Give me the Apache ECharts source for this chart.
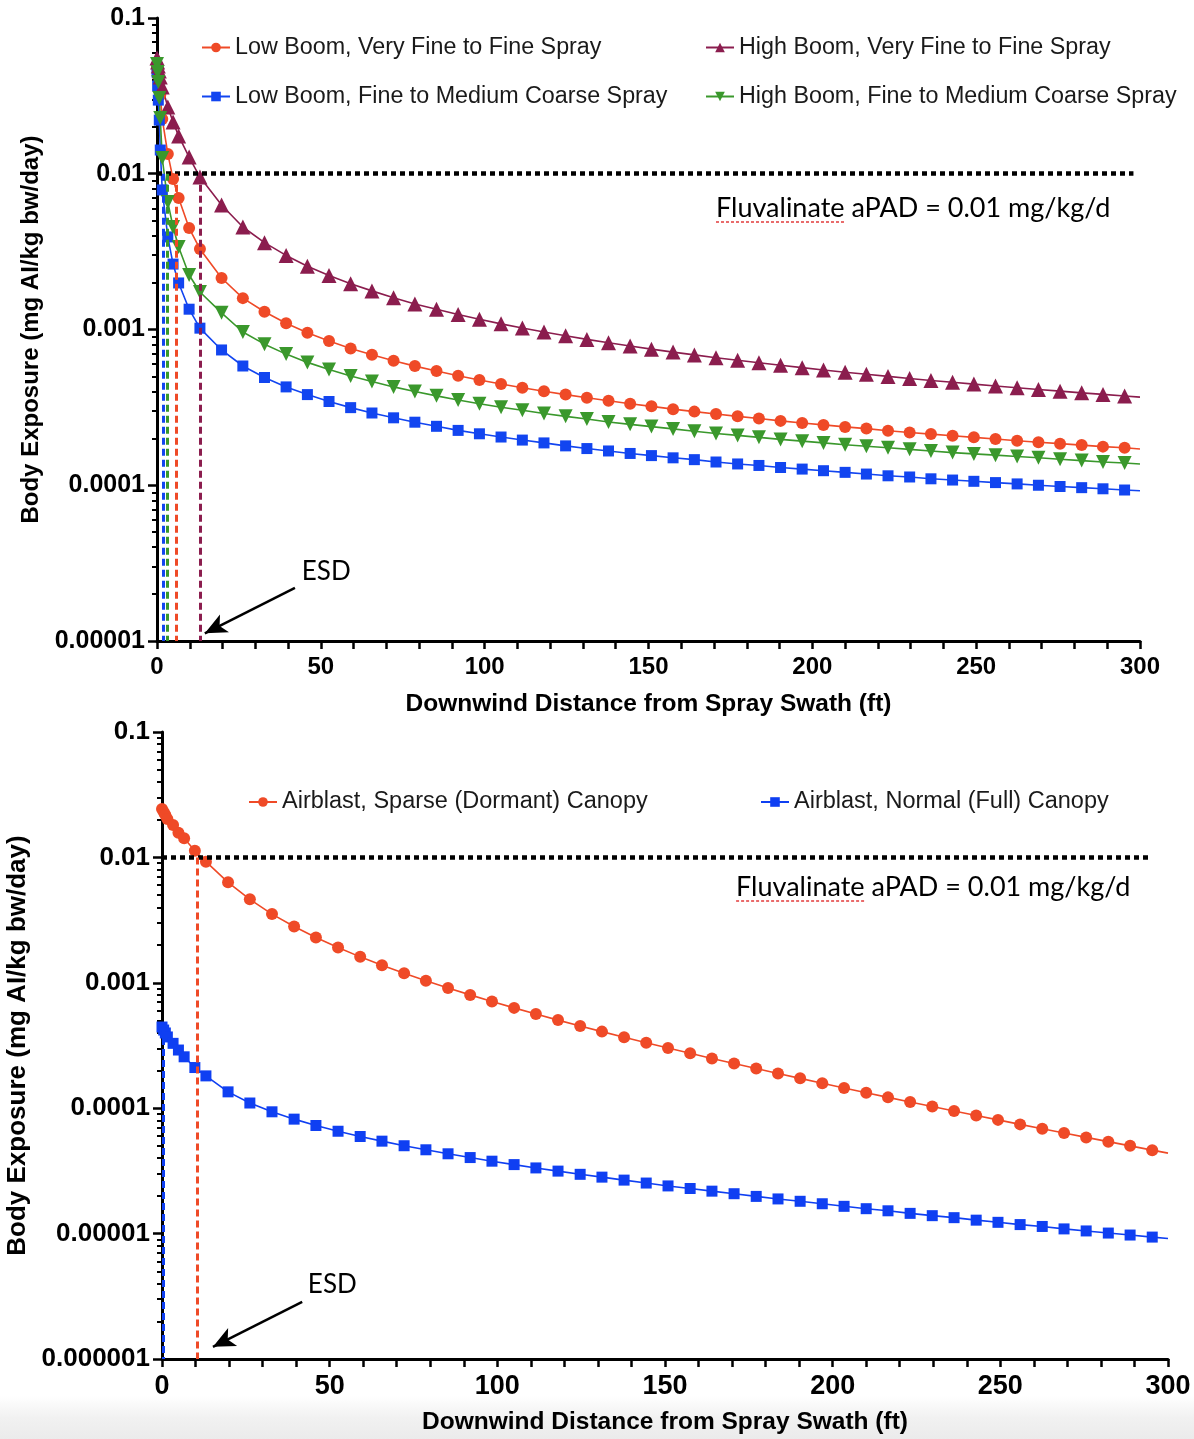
<!DOCTYPE html>
<html><head><meta charset="utf-8">
<script src="https://cdn.jsdelivr.net/npm/echarts@6/dist/echarts.min.js"></script>
<style>
html,body{margin:0;padding:0;background:#fff}
#c{width:1194px;height:1439px;background:linear-gradient(to bottom,#fff 0,#fff 1396px,#f1f1f1 1418px,#ebebeb 1439px)}
</style>
</head><body><div id="c"></div>
<script>
// ---------- DATA ----------
const xTop = [0,0.2,0.4,0.7,1.0,1.6,3.3,4.9,6.6,9.8,13.1,19.7,26.2,32.8,39.4,45.9,52.5,59.1,65.6,72.2,78.7,85.3,91.9,98.4,105.0,111.5,118.1,124.7,131.2,137.8,144.4,150.9,157.5,164.0,170.6,177.2,183.7,190.3,196.9,203.4,210.0,216.5,223.1,229.7,236.2,242.8,249.3,255.9,262.5,269.0,275.6,282.2,288.7,295.3,300];
const lowBoomVeryFine = [0.0499,0.0464,0.0431,0.0388,0.0320,0.0225,0.0134,0.00925,0.00699,0.00448,0.00329,0.00214,
  1.59e-3,1.30e-3,1.096e-3,9.53e-4,8.43e-4,7.56e-4,6.88e-4,6.30e-4,5.82e-4,5.41e-4,5.05e-4,4.74e-4,4.47e-4,4.23e-4,4.01e-4,3.82e-4,3.65e-4,3.49e-4,3.34e-4,3.21e-4,3.08e-4,2.97e-4,2.87e-4,2.77e-4,2.68e-4,2.59e-4,2.51e-4,2.44e-4,2.37e-4,2.31e-4,2.24e-4,2.18e-4,2.13e-4,2.08e-4,2.03e-4,1.98e-4,1.93e-4,1.89e-4,1.85e-4,1.81e-4,1.77e-4,1.74e-4,1.71e-4];
const lowBoomFineMed = [0.0450,0.0366,0.0297,0.0221,0.0142,0.00787,0.00393,0.00263,0.00199,0.00135,0.00102,0.000739,
  5.83e-4,4.92e-4,4.28e-4,3.82e-4,3.45e-4,3.15e-4,2.91e-4,2.71e-4,2.54e-4,2.39e-4,2.25e-4,2.14e-4,2.04e-4,1.95e-4,1.87e-4,1.79e-4,1.72e-4,1.66e-4,1.60e-4,1.55e-4,1.50e-4,1.46e-4,1.41e-4,1.37e-4,1.34e-4,1.30e-4,1.27e-4,1.24e-4,1.21e-4,1.18e-4,1.15e-4,1.13e-4,1.10e-4,1.08e-4,1.06e-4,1.04e-4,1.02e-4,1.00e-4,9.82e-5,9.65e-5,9.49e-5,9.32e-5,9.21e-5];
const highBoomVeryFine = [0.0553,0.0522,0.0492,0.0457,0.0418,0.0361,0.0268,0.0215,0.0175,0.0128,0.00953,0.0063,
  4.55e-3,3.61e-3,2.99e-3,2.55e-3,2.22e-3,1.97e-3,1.77e-3,1.60e-3,1.46e-3,1.35e-3,1.248e-3,1.163e-3,1.087e-3,1.022e-3,9.63e-4,9.11e-4,8.64e-4,8.22e-4,7.83e-4,7.48e-4,7.16e-4,6.87e-4,6.59e-4,6.34e-4,6.11e-4,5.89e-4,5.69e-4,5.50e-4,5.32e-4,5.16e-4,5.00e-4,4.85e-4,4.71e-4,4.58e-4,4.46e-4,4.34e-4,4.23e-4,4.12e-4,4.02e-4,3.92e-4,3.83e-4,3.74e-4,3.68e-4];
const highBoomFineMed = [0.0507,0.0450,0.0388,0.0306,0.0228,0.0126,0.00658,0.00455,0.00339,0.00224,0.00174,0.00128,
  9.64e-4,8.05e-4,6.95e-4,6.15e-4,5.53e-4,5.03e-4,4.63e-4,4.28e-4,4.00e-4,3.75e-4,3.53e-4,3.34e-4,3.17e-4,3.03e-4,2.89e-4,2.77e-4,2.66e-4,2.55e-4,2.46e-4,2.38e-4,2.30e-4,2.22e-4,2.15e-4,2.09e-4,2.03e-4,1.97e-4,1.92e-4,1.87e-4,1.82e-4,1.78e-4,1.74e-4,1.70e-4,1.66e-4,1.62e-4,1.59e-4,1.56e-4,1.53e-4,1.50e-4,1.47e-4,1.44e-4,1.41e-4,1.39e-4,1.37e-4];

const xBot = [0,0.5,1.0,1.6,3.3,4.9,6.6,9.8,13.1,19.7,26.2,32.8,39.4,45.9,52.5,59.1,65.6,72.2,78.7,85.3,91.9,98.4,105.0,111.5,118.1,124.7,131.2,137.8,144.4,150.9,157.5,164.0,170.6,177.2,183.7,190.3,196.9,203.4,210.0,216.5,223.1,229.7,236.2,242.8,249.3,255.9,262.5,269.0,275.6,282.2,288.7,295.3,300];
const airblastSparse = [0.0243,0.0230,0.0218,0.0202,0.0181,0.0157,0.0142,0.0113,0.00924,0.00633,
  4.63e-3,3.53e-3,2.81e-3,2.30e-3,1.91e-3,1.61e-3,1.38e-3,1.19e-3,1.04e-3,9.10e-4,8.01e-4,7.10e-4,6.31e-4,5.64e-4,5.04e-4,4.53e-4,4.08e-4,3.68e-4,3.33e-4,3.02e-4,2.74e-4,2.49e-4,2.27e-4,2.07e-4,1.89e-4,1.73e-4,1.58e-4,1.45e-4,1.33e-4,1.22e-4,1.12e-4,1.03e-4,9.50e-5,8.74e-5,8.07e-5,7.43e-5,6.86e-5,6.34e-5,5.85e-5,5.41e-5,5.01e-5,4.63e-5,4.38e-5];
const airblastNormal = [4.44e-4,4.20e-4,3.98e-4,3.70e-4,3.29e-4,2.91e-4,2.57e-4,2.11e-4,1.81e-4,1.35e-4,
  1.10e-4,9.36e-5,8.18e-5,7.28e-5,6.55e-5,5.95e-5,5.46e-5,5.02e-5,4.66e-5,4.33e-5,4.04e-5,3.78e-5,3.55e-5,3.34e-5,3.15e-5,2.97e-5,2.82e-5,2.67e-5,2.53e-5,2.40e-5,2.29e-5,2.18e-5,2.08e-5,1.98e-5,1.89e-5,1.81e-5,1.73e-5,1.65e-5,1.58e-5,1.52e-5,1.45e-5,1.39e-5,1.34e-5,1.28e-5,1.23e-5,1.18e-5,1.14e-5,1.09e-5,1.05e-5,1.01e-5,9.74e-6,9.38e-6,9.13e-6];

// ESD distances (ft)
const esdTop = {lowVF: 5.8, lowFM: 1.9, highVF: 13.1, highFM: 3.1};
const esdBot = {sparse: 10.6, normal: 0.4};
const aPAD = 0.01;

const namesTop = ['Low Boom, Very Fine to Fine Spray','Low Boom, Fine to Medium Coarse Spray','High Boom, Very Fine to Fine Spray','High Boom, Fine to Medium Coarse Spray'];
const namesBot = ['Airblast, Sparse (Dormant) Canopy','Airblast, Normal (Full) Canopy'];
const yTicksTop = [1e-5,1e-4,1e-3,1e-2,1e-1];
const yLabelsTop = ['0.00001','0.0001','0.001','0.01','0.1'];
const yTicksBot = [1e-6,1e-5,1e-4,1e-3,1e-2,1e-1];
const yLabelsBot = ['0.000001','0.00001','0.0001','0.001','0.01','0.1'];
const xTitle = 'Downwind Distance from Spray Swath (ft)';
const yTitle = 'Body Exposure (mg AI/kg bw/day)';
const apadText = 'Fluvalinate aPAD = 0.01 mg/kg/d';

// ---------- STYLE ----------
const C = {red:'#EF4A27', blue:'#1245F0', purple:'#8B1D4E', green:'#3A982C', bred:'#EF4A27', bblue:'#0F3FF2'};
const FONT = 'Liberation Sans, Arial, sans-serif';
const GILL = 'Lato, Open Sans, sans-serif';

function pts(xs, ys){
  return xs.map((x,i)=> i===xs.length-1 ? {value:[x,ys[i]], symbol:'none'} : [x,ys[i]]);
}
function minors(ticks){
  const out=[];
  for(let i=0;i<ticks.length-1;i++) for(let m=2;m<=9;m++) out.push(ticks[i]*m);
  return out;
}
function yLabFmt(ticks, labels){
  return v => { const k = Math.round(Math.log10(v)); const idx = ticks.findIndex(t=>Math.round(Math.log10(t))===k); return idx>=0?labels[idx]:''; };
}
function esdLine(x, yTop, yBot, color){
  return [{coord:[x,yTop], lineStyle:{color, width:3, type:[7,4]}, symbol:'none'},{coord:[x,yBot], symbol:'none'}];
}
function lineSeries(name, xs, ys, color, symbol, size, rot, xi, yi, ml){
  return {
    name, type:'line', xAxisIndex:xi, yAxisIndex:yi, data:pts(xs,ys),
    symbol, symbolSize:size, symbolRotate:rot||0, showSymbol:true,
    lineStyle:{color, width:1.6}, itemStyle:{color},
    emphasis:{disabled:true}, silent:true, z:3,
    markLine: ml ? {silent:true, symbol:'none', label:{show:false}, animation:false, data:ml} : undefined
  };
}

const chart = echarts.init(document.getElementById('c'), null, {renderer:'canvas'});

const axisLineStyle = {color:'#000', width:3};
function xAxisCfg(gi, labelSize, nameSize, nameGap){
  return {
    gridIndex:gi, type:'value', min:0, max:300, interval:10,
    axisLine:{show:true, onZero:false, lineStyle:axisLineStyle},
    axisTick:{show:true, length:8, lineStyle:{color:'#000', width:2.5}},
    axisLabel:{margin:14, color:'#000', fontFamily:FONT, fontWeight:'bold', fontSize:labelSize,
      formatter: v => (Math.round(v)%50===0 ? String(Math.round(v)) : '')},
    splitLine:{show:false},
    name:xTitle, nameLocation:'middle', nameGap,
    nameTextStyle:{color:'#000', fontFamily:FONT, fontWeight:'bold', fontSize:nameSize}
  };
}
function yAxisCfg(gi, ticks, labels, labelSize, nameSize, nameGap){
  return {
    gridIndex:gi, type:'log', logBase:10, min:ticks[0], max:ticks[ticks.length-1],
    axisLine:{show:true, onZero:false, lineStyle:axisLineStyle},
    axisTick:{show:true, length:9, customValues:ticks, lineStyle:{color:'#000', width:2.5}},
    axisLabel:{margin:12, color:'#000', fontFamily:FONT, fontWeight:'bold', fontSize:labelSize,
      customValues:ticks, formatter:yLabFmt(ticks,labels)},
    splitLine:{show:false}, minorTick:{show:false},
    name:yTitle, nameLocation:'middle', nameGap,
    nameTextStyle:{color:'#000', fontFamily:FONT, fontWeight:'bold', fontSize:nameSize}
  };
}
function yMinorCfg(gi, ticks){
  return {
    gridIndex:gi, type:'log', logBase:10, min:ticks[0], max:ticks[ticks.length-1], position:'left',
    axisLine:{show:false}, axisLabel:{show:false}, splitLine:{show:false},
    axisTick:{show:true, length:5, customValues:minors(ticks), lineStyle:{color:'#000', width:2}}
  };
}
function legendCfg(name, left, top, fs){
  return {data:[name], left, top, padding:0, itemWidth:28, itemHeight:12, selectedMode:false,
    textStyle:{fontFamily:FONT, fontSize:fs, color:'#1a1a1a'}};
}

const annotTop = {
  name:'annotTop', type:'line', xAxisIndex:0, yAxisIndex:0, data:[], silent:true,
  markLine:{silent:true, symbol:'none', label:{show:false}, animation:false, data:[
    [{coord:[0,aPAD], lineStyle:{color:'#000', width:4.5, type:[5,4]}},{coord:[298,aPAD]}],
    [{coord:[42.1,2.19e-5], symbol:'none', lineStyle:{color:'#000', width:2.5, type:'solid'}},{coord:[14.6,1.12e-5], symbol:'arrow', symbolSize:[15,22]}],
    [{coord:[170.6,4.9e-3], lineStyle:{color:'#e23b3b', width:1.6, type:[3,2]}},{coord:[210,4.9e-3]}]
  ]},
  markPoint:{silent:true, symbol:'circle', symbolSize:0, animation:false, data:[
    {coord:[44.2,2.81e-5], label:{show:true, position:'right', distance:0, formatter:'ESD', color:'#000', fontFamily:GILL, fontSize:26}},
    {coord:[170.6,6.03e-3], label:{show:true, position:'right', distance:0, formatter:apadText, color:'#000', fontFamily:GILL, fontSize:27}}
  ]}
};
const annotBot = {
  name:'annotBot', type:'line', xAxisIndex:1, yAxisIndex:2, data:[], silent:true,
  markLine:{silent:true, symbol:'none', label:{show:false}, animation:false, data:[
    [{coord:[0,aPAD], lineStyle:{color:'#000', width:4.5, type:[5,4]}},{coord:[295,aPAD]}],
    [{coord:[41.8,2.85e-6], symbol:'none', lineStyle:{color:'#000', width:2.5, type:'solid'}},{coord:[15.2,1.25e-6], symbol:'arrow', symbolSize:[15,22]}],
    [{coord:[171.2,4.49e-3], lineStyle:{color:'#e23b3b', width:1.6, type:[3,2]}},{coord:[209.5,4.49e-3]}]
  ]},
  markPoint:{silent:true, symbol:'circle', symbolSize:0, animation:false, data:[
    {coord:[43.5,3.89e-6], label:{show:true, position:'right', distance:0, formatter:'ESD', color:'#000', fontFamily:GILL, fontSize:26}},
    {coord:[171.2,5.81e-3], label:{show:true, position:'right', distance:0, formatter:apadText, color:'#000', fontFamily:GILL, fontSize:27}}
  ]}
};

const option = {
  animation:false,
  backgroundColor:'transparent',
  grid:[
    {left:157, top:18, width:983, height:623, containLabel:false, outerBoundsMode:'none'},
    {left:162, top:732, width:1006, height:627, containLabel:false, outerBoundsMode:'none'}
  ],
  xAxis:[
    xAxisCfg(0, 24, 24.5, 51),
    xAxisCfg(1, 27, 24.5, 51)
  ],
  yAxis:[
    yAxisCfg(0, yTicksTop, yLabelsTop, 25, 24, 112),
    yMinorCfg(0, yTicksTop),
    yAxisCfg(1, yTicksBot, yLabelsBot, 26, 26, 130),
    yMinorCfg(1, yTicksBot)
  ],
  legend:[
    legendCfg(namesTop[0], 201, 36, 23.3),
    legendCfg(namesTop[1], 201, 85, 23.3),
    legendCfg(namesTop[2], 705, 36, 23.3),
    legendCfg(namesTop[3], 705, 85, 23.3),
    legendCfg(namesBot[0], 248, 790, 23.5),
    legendCfg(namesBot[1], 760, 790, 23.5)
  ],
  series:[
    annotTop, annotBot,
    lineSeries(namesTop[0], xTop, lowBoomVeryFine, C.red, 'circle', 12, 0, 0, 0, [esdLine(esdTop.lowVF, aPAD, 1e-5, C.red)]),
    lineSeries(namesTop[1], xTop, lowBoomFineMed, C.blue, 'rect', 11, 0, 0, 0, [esdLine(esdTop.lowFM, aPAD, 1e-5, C.blue)]),
    lineSeries(namesTop[2], xTop, highBoomVeryFine, C.purple, 'triangle', 15, 0, 0, 0, [esdLine(esdTop.highVF, aPAD, 1e-5, C.purple)]),
    lineSeries(namesTop[3], xTop, highBoomFineMed, C.green, 'triangle', 14, 180, 0, 0, [esdLine(esdTop.highFM, aPAD, 1e-5, C.green)]),
    lineSeries(namesBot[0], xBot, airblastSparse, C.bred, 'circle', 12, 0, 1, 2, [esdLine(esdBot.sparse, aPAD, 1e-6, C.bred)]),
    lineSeries(namesBot[1], xBot, airblastNormal, C.bblue, 'rect', 11, 0, 1, 2, [esdLine(esdBot.normal, airblastNormal[0], 1e-6, C.bblue)])
  ]
};
chart.setOption(option);
</script>
</body></html>
